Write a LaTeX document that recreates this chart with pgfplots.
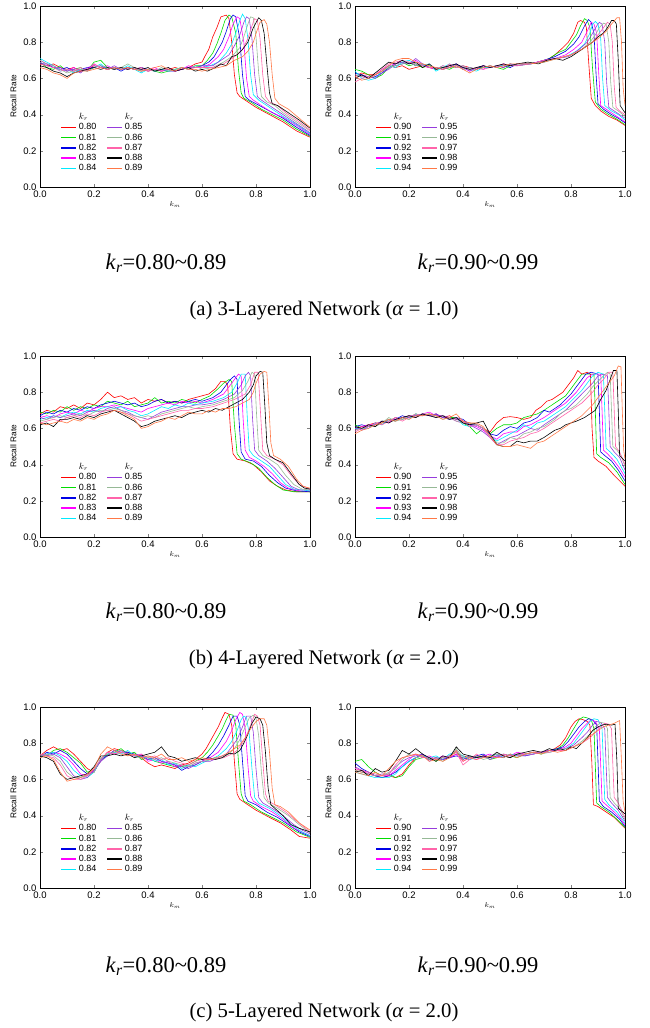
\documentclass[border=0pt]{standalone}
\usepackage{fontspec}
\setmainfont{Liberation Serif}
\setsansfont{Liberation Sans}
\usepackage{pgfplots}
\usepackage{pgfplotstable}
\pgfplotsset{compat=1.18}

\definecolor{c0}{RGB}{255,0,0}
\definecolor{c1}{RGB}{0,220,0}
\definecolor{c2}{RGB}{0,0,230}
\definecolor{c3}{RGB}{255,0,255}
\definecolor{c4}{RGB}{0,235,255}
\definecolor{c5}{RGB}{150,60,220}
\definecolor{c6}{RGB}{150,185,150}
\definecolor{c7}{RGB}{255,100,170}
\definecolor{c8}{RGB}{0,0,0}
\definecolor{c9}{RGB}{255,120,70}

\pgfplotsset{
 panel/.style={
  scale only axis, width=270pt, height=181pt,
  xmin=0,xmax=1,ymin=0,ymax=1,
  xtick={0,0.2,0.4,0.6,0.8,1}, ytick={0,0.2,0.4,0.6,0.8,1},
  tick align=inside, major tick length=3pt,
  xticklabel style={/pgf/number format/fixed,/pgf/number format/fixed zerofill,/pgf/number format/precision=1,/pgf/number format/assume math mode=true},
  yticklabel style={/pgf/number format/fixed,/pgf/number format/fixed zerofill,/pgf/number format/precision=1,/pgf/number format/assume math mode=true},
  ticklabel style={font=\sffamily\fontsize{9.5}{10}\selectfont},
  xlabel={$k_m$}, ylabel={Recall Rate},
  xlabel style={font=\fontsize{7}{8}\selectfont, at={(axis description cs:0.5,0)}, anchor=center, yshift=-18pt},
  ylabel style={font=\sffamily\fontsize{8.3}{9}\selectfont},
  axis line style={line width=0.8pt},
  no markers,
  every axis plot/.append style={line width=0.6pt},
  legend columns=2,
  legend cell align=left,
  legend style={at={(axis description cs:0.075,0.42)},anchor=north west,draw=none,fill=none,
     font=\sffamily\fontsize{9}{9}\selectfont,
     /tikz/every even column/.append style={column sep=8pt},
     row sep=-1.5pt, inner sep=0pt},
  legend image code/.code={\draw[#1,line width=1.5pt] (0pt,0pt) -- (15pt,0pt);},
 }
}

\newcommand{\series}[4]{%
 \addplot[#3,forget plot] table[x=x,y=#2]{#1};
 \addplot[#3,forget plot] coordinates {#4};}

\newcommand{\legendset}[1]{%
 \addlegendimage{empty legend}\addlegendentry{$k_r$}
 \addlegendimage{empty legend}\addlegendentry{$k_r$}
 \addlegendimage{color=c0}\addlegendentry{0.#10}
 \addlegendimage{color=c5}\addlegendentry{0.#15}
 \addlegendimage{color=c1}\addlegendentry{0.#11}
 \addlegendimage{color=c6}\addlegendentry{0.#16}
 \addlegendimage{color=c2}\addlegendentry{0.#12}
 \addlegendimage{color=c7}\addlegendentry{0.#17}
 \addlegendimage{color=c3}\addlegendentry{0.#13}
 \addlegendimage{color=c8}\addlegendentry{0.#18}
 \addlegendimage{color=c4}\addlegendentry{0.#14}
 \addlegendimage{color=c9}\addlegendentry{0.#19}}

% ---------------- flat parts ----------------
\pgfplotstableread{
x r g b m c p gg pk k o
0.000 0.68 0.69 0.68 0.70 0.71 0.69 0.70 0.68 0.67 0.66
0.025 0.67 0.66 0.68 0.68 0.69 0.67 0.68 0.67 0.66 0.65
0.050 0.68 0.65 0.66 0.67 0.67 0.66 0.67 0.66 0.64 0.63
0.075 0.66 0.67 0.65 0.65 0.64 0.66 0.65 0.64 0.63 0.62
0.100 0.65 0.64 0.66 0.64 0.65 0.64 0.63 0.65 0.61 0.60
0.125 0.66 0.65 0.64 0.66 0.63 0.65 0.64 0.64 0.63 0.63
0.150 0.64 0.66 0.65 0.64 0.65 0.63 0.65 0.66 0.64 0.64
0.175 0.65 0.64 0.66 0.65 0.64 0.66 0.64 0.64 0.65 0.64
0.200 0.67 0.69 0.66 0.68 0.66 0.67 0.66 0.68 0.66 0.65
0.225 0.66 0.70 0.67 0.66 0.68 0.66 0.67 0.66 0.65 0.66
0.250 0.65 0.66 0.65 0.67 0.65 0.65 0.66 0.65 0.66 0.65
0.275 0.66 0.65 0.66 0.65 0.66 0.67 0.65 0.66 0.65 0.66
0.300 0.65 0.66 0.64 0.66 0.65 0.65 0.66 0.65 0.66 0.65
0.325 0.66 0.65 0.66 0.65 0.67 0.66 0.68 0.66 0.65 0.66
0.350 0.65 0.66 0.65 0.66 0.65 0.65 0.66 0.65 0.66 0.65
0.375 0.66 0.64 0.66 0.64 0.63 0.65 0.64 0.66 0.65 0.64
0.400 0.64 0.65 0.65 0.65 0.65 0.64 0.65 0.64 0.66 0.65
0.425 0.65 0.64 0.64 0.66 0.64 0.65 0.64 0.65 0.64 0.66
0.450 0.64 0.63 0.65 0.64 0.65 0.64 0.66 0.64 0.65 0.67
0.475 0.65 0.64 0.64 0.65 0.64 0.65 0.64 0.66 0.66 0.65
0.500 0.66 0.65 0.64 0.64 0.65 0.64 0.65 0.64 0.64 0.64
0.525 0.65 0.66 0.65 0.65 0.66 0.65 0.66 0.66 0.65 0.66
0.550 0.66 0.65 0.66 0.67 0.65 0.66 0.65 0.65 0.66 0.65
0.575 0.68 0.67 0.66 0.66 0.67 0.66 0.67 0.66 0.64 0.65
0.600 0.69 0.67 0.67 0.66 0.66 0.67 0.65 0.66 0.65 0.64
}\flatAL

\pgfplotstableread{
x r g b m c p gg pk k o
0.000 0.61 0.65 0.63 0.62 0.64 0.60 0.62 0.58 0.60 0.61
0.025 0.63 0.64 0.62 0.61 0.60 0.62 0.61 0.60 0.62 0.59
0.050 0.62 0.62 0.60 0.60 0.59 0.61 0.60 0.61 0.60 0.60
0.075 0.62 0.60 0.61 0.62 0.60 0.60 0.62 0.62 0.63 0.62
0.100 0.64 0.62 0.63 0.65 0.64 0.63 0.64 0.65 0.66 0.64
0.125 0.67 0.66 0.66 0.67 0.67 0.65 0.66 0.68 0.69 0.67
0.150 0.66 0.68 0.67 0.68 0.66 0.68 0.67 0.69 0.68 0.70
0.175 0.67 0.69 0.68 0.70 0.69 0.69 0.68 0.70 0.70 0.71
0.200 0.65 0.67 0.69 0.68 0.70 0.68 0.69 0.69 0.68 0.71
0.225 0.66 0.68 0.67 0.70 0.68 0.71 0.67 0.68 0.69 0.69
0.250 0.67 0.66 0.68 0.67 0.67 0.68 0.68 0.67 0.66 0.68
0.275 0.66 0.67 0.66 0.66 0.68 0.66 0.67 0.66 0.68 0.67
0.300 0.65 0.65 0.66 0.65 0.64 0.66 0.65 0.66 0.65 0.66
0.325 0.66 0.66 0.65 0.67 0.66 0.65 0.67 0.65 0.66 0.65
0.350 0.67 0.65 0.66 0.66 0.68 0.67 0.66 0.68 0.67 0.66
0.375 0.66 0.67 0.68 0.67 0.66 0.68 0.67 0.66 0.68 0.67
0.400 0.67 0.66 0.65 0.66 0.67 0.66 0.65 0.67 0.66 0.65
0.425 0.66 0.65 0.66 0.64 0.65 0.64 0.66 0.65 0.65 0.63
0.450 0.65 0.66 0.65 0.66 0.64 0.66 0.65 0.66 0.66 0.65
0.475 0.67 0.66 0.67 0.65 0.66 0.67 0.66 0.65 0.67 0.66
0.500 0.66 0.67 0.66 0.67 0.66 0.66 0.67 0.66 0.66 0.67
0.525 0.67 0.66 0.67 0.66 0.67 0.67 0.66 0.67 0.67 0.66
0.550 0.66 0.65 0.67 0.68 0.67 0.66 0.67 0.68 0.68 0.67
0.575 0.68 0.67 0.66 0.67 0.68 0.68 0.67 0.67 0.67 0.68
0.600 0.67 0.68 0.68 0.68 0.67 0.67 0.68 0.67 0.68 0.68
}\flatAR

\pgfplotstableread{
x r g b m c p gg pk k o
0.000 0.68 0.69 0.67 0.66 0.65 0.66 0.64 0.63 0.62 0.63
0.025 0.70 0.68 0.69 0.67 0.66 0.65 0.65 0.64 0.63 0.62
0.050 0.69 0.70 0.68 0.66 0.67 0.67 0.66 0.65 0.61 0.63
0.075 0.72 0.69 0.70 0.68 0.66 0.66 0.67 0.64 0.65 0.64
0.100 0.71 0.72 0.69 0.69 0.68 0.67 0.66 0.66 0.65 0.63
0.125 0.73 0.70 0.71 0.68 0.69 0.68 0.67 0.67 0.66 0.65
0.150 0.71 0.72 0.70 0.70 0.68 0.67 0.68 0.66 0.65 0.64
0.175 0.74 0.71 0.72 0.69 0.70 0.69 0.67 0.68 0.67 0.66
0.200 0.73 0.73 0.71 0.71 0.69 0.70 0.69 0.67 0.66 0.65
0.225 0.76 0.72 0.73 0.72 0.71 0.69 0.70 0.69 0.68 0.67
0.250 0.80 0.75 0.74 0.72 0.72 0.71 0.70 0.70 0.69 0.68
0.275 0.77 0.74 0.75 0.73 0.71 0.72 0.71 0.70 0.70 0.70
0.300 0.78 0.73 0.74 0.72 0.72 0.70 0.70 0.69 0.68 0.69
0.325 0.76 0.75 0.73 0.71 0.70 0.69 0.68 0.68 0.66 0.67
0.350 0.77 0.72 0.74 0.70 0.69 0.67 0.67 0.66 0.64 0.65
0.375 0.74 0.73 0.72 0.69 0.67 0.66 0.66 0.64 0.61 0.60
0.400 0.76 0.74 0.73 0.71 0.68 0.65 0.67 0.65 0.62 0.61
0.425 0.75 0.77 0.75 0.72 0.70 0.67 0.66 0.66 0.64 0.63
0.450 0.76 0.74 0.76 0.73 0.72 0.69 0.68 0.67 0.65 0.64
0.475 0.74 0.75 0.74 0.74 0.71 0.70 0.69 0.68 0.66 0.66
0.500 0.75 0.74 0.75 0.73 0.73 0.71 0.70 0.69 0.67 0.65
0.525 0.74 0.76 0.74 0.75 0.72 0.72 0.71 0.70 0.66 0.67
0.550 0.76 0.75 0.75 0.74 0.74 0.72 0.72 0.70 0.68 0.69
0.575 0.77 0.74 0.76 0.75 0.73 0.73 0.71 0.71 0.69 0.68
0.600 0.78 0.76 0.75 0.74 0.74 0.73 0.72 0.71 0.70 0.68
}\flatBL

\pgfplotstableread{
x r g b m c p gg pk k o
0.000 0.60 0.62 0.61 0.59 0.60 0.61 0.59 0.58 0.61 0.57
0.025 0.61 0.60 0.62 0.61 0.60 0.59 0.60 0.60 0.60 0.59
0.050 0.62 0.61 0.61 0.62 0.60 0.61 0.62 0.61 0.62 0.60
0.075 0.63 0.62 0.63 0.62 0.63 0.62 0.61 0.63 0.61 0.62
0.100 0.63 0.64 0.62 0.64 0.62 0.64 0.63 0.62 0.64 0.63
0.125 0.65 0.64 0.65 0.63 0.65 0.64 0.66 0.64 0.63 0.65
0.150 0.64 0.66 0.65 0.66 0.64 0.65 0.64 0.66 0.65 0.64
0.175 0.66 0.65 0.67 0.65 0.66 0.66 0.65 0.64 0.66 0.66
0.200 0.67 0.66 0.66 0.67 0.65 0.67 0.67 0.66 0.67 0.65
0.225 0.66 0.68 0.67 0.66 0.68 0.67 0.66 0.68 0.66 0.67
0.250 0.68 0.67 0.68 0.68 0.67 0.68 0.68 0.67 0.68 0.67
0.275 0.67 0.68 0.67 0.69 0.68 0.67 0.68 0.68 0.67 0.68
0.300 0.68 0.67 0.68 0.67 0.66 0.68 0.67 0.66 0.66 0.67
0.325 0.66 0.67 0.66 0.67 0.67 0.66 0.65 0.67 0.67 0.65
0.350 0.67 0.66 0.65 0.66 0.65 0.66 0.66 0.65 0.65 0.66
0.375 0.65 0.66 0.66 0.64 0.66 0.65 0.64 0.66 0.66 0.68
0.400 0.64 0.63 0.65 0.63 0.62 0.64 0.63 0.64 0.63 0.64
0.425 0.63 0.61 0.62 0.62 0.61 0.62 0.63 0.61 0.62 0.63
0.450 0.62 0.57 0.62 0.61 0.62 0.60 0.62 0.62 0.63 0.63
0.475 0.60 0.60 0.60 0.59 0.60 0.58 0.60 0.60 0.64 0.61
0.500 0.58 0.57 0.57 0.56 0.56 0.55 0.56 0.55 0.57 0.56
0.525 0.63 0.60 0.56 0.54 0.53 0.51 0.52 0.51 0.51 0.51
0.550 0.66 0.62 0.59 0.57 0.55 0.53 0.52 0.51 0.50 0.50
0.575 0.665 0.62 0.61 0.58 0.57 0.55 0.55 0.53 0.50 0.50
0.600 0.66 0.63 0.60 0.58 0.59 0.56 0.54 0.54 0.53 0.51
}\flatBR

\pgfplotstableread{
x r g b m c p gg pk k o
0.000 0.73 0.74 0.72 0.73 0.72 0.74 0.73 0.74 0.73 0.72
0.025 0.76 0.73 0.75 0.74 0.74 0.73 0.74 0.73 0.72 0.73
0.050 0.78 0.76 0.74 0.75 0.75 0.74 0.73 0.72 0.70 0.71
0.075 0.76 0.77 0.76 0.74 0.73 0.72 0.70 0.68 0.63 0.64
0.100 0.77 0.75 0.74 0.72 0.70 0.67 0.64 0.62 0.60 0.59
0.125 0.74 0.72 0.70 0.68 0.65 0.62 0.61 0.60 0.61 0.60
0.150 0.70 0.69 0.66 0.63 0.62 0.60 0.61 0.60 0.62 0.61
0.175 0.66 0.64 0.63 0.62 0.61 0.61 0.62 0.62 0.63 0.63
0.200 0.64 0.65 0.64 0.65 0.64 0.65 0.64 0.66 0.67 0.66
0.225 0.71 0.70 0.71 0.70 0.71 0.70 0.72 0.71 0.73 0.74
0.250 0.75 0.74 0.73 0.75 0.74 0.73 0.74 0.75 0.73 0.78
0.275 0.77 0.75 0.76 0.74 0.75 0.76 0.75 0.74 0.74 0.76
0.300 0.76 0.77 0.75 0.76 0.74 0.75 0.76 0.75 0.73 0.74
0.325 0.75 0.74 0.75 0.74 0.76 0.74 0.73 0.74 0.74 0.73
0.350 0.73 0.75 0.74 0.73 0.73 0.74 0.74 0.73 0.72 0.74
0.375 0.72 0.71 0.73 0.74 0.72 0.73 0.72 0.74 0.73 0.72
0.400 0.69 0.72 0.71 0.70 0.72 0.71 0.73 0.72 0.74 0.73
0.425 0.67 0.70 0.72 0.71 0.70 0.72 0.71 0.73 0.75 0.72
0.450 0.68 0.69 0.70 0.69 0.71 0.70 0.72 0.71 0.78 0.74
0.475 0.67 0.68 0.69 0.70 0.68 0.69 0.70 0.72 0.73 0.71
0.500 0.66 0.67 0.68 0.67 0.69 0.68 0.69 0.70 0.72 0.71
0.525 0.68 0.67 0.65 0.68 0.66 0.67 0.68 0.69 0.70 0.72
0.550 0.69 0.68 0.67 0.67 0.68 0.66 0.67 0.68 0.71 0.70
0.575 0.71 0.70 0.68 0.69 0.67 0.68 0.69 0.70 0.72 0.71
0.600 0.74 0.72 0.70 0.70 0.69 0.70 0.70 0.71 0.71 0.72
}\flatCL

\pgfplotstableread{
x r g b m c p gg pk k o
0.000 0.65 0.70 0.69 0.66 0.64 0.67 0.65 0.66 0.64 0.64
0.025 0.64 0.71 0.66 0.65 0.63 0.65 0.64 0.65 0.65 0.63
0.050 0.63 0.67 0.64 0.63 0.62 0.64 0.63 0.64 0.62 0.62
0.075 0.62 0.64 0.62 0.62 0.61 0.62 0.62 0.63 0.66 0.64
0.100 0.61 0.62 0.61 0.62 0.61 0.63 0.62 0.62 0.64 0.62
0.125 0.62 0.63 0.62 0.62 0.61 0.63 0.64 0.63 0.65 0.66
0.150 0.61 0.61 0.64 0.65 0.63 0.67 0.66 0.68 0.70 0.70
0.175 0.63 0.62 0.67 0.68 0.67 0.70 0.71 0.72 0.76 0.72
0.200 0.68 0.67 0.70 0.71 0.70 0.72 0.74 0.73 0.74 0.73
0.225 0.72 0.71 0.72 0.74 0.72 0.73 0.72 0.74 0.77 0.74
0.250 0.73 0.72 0.74 0.72 0.73 0.74 0.73 0.72 0.74 0.73
0.275 0.71 0.72 0.71 0.73 0.72 0.70 0.71 0.72 0.72 0.70
0.300 0.72 0.70 0.72 0.71 0.73 0.72 0.72 0.71 0.70 0.71
0.325 0.71 0.72 0.71 0.73 0.71 0.71 0.70 0.72 0.73 0.70
0.350 0.72 0.73 0.72 0.72 0.74 0.73 0.72 0.73 0.72 0.72
0.375 0.74 0.75 0.73 0.74 0.75 0.76 0.77 0.75 0.78 0.76
0.400 0.73 0.71 0.72 0.70 0.73 0.71 0.72 0.68 0.74 0.70
0.425 0.72 0.73 0.71 0.72 0.71 0.73 0.72 0.71 0.73 0.72
0.450 0.73 0.72 0.73 0.71 0.72 0.72 0.73 0.74 0.72 0.71
0.475 0.72 0.73 0.74 0.73 0.72 0.73 0.71 0.72 0.73 0.72
0.500 0.73 0.71 0.72 0.74 0.73 0.71 0.72 0.73 0.72 0.73
0.525 0.74 0.72 0.73 0.72 0.74 0.73 0.74 0.72 0.75 0.72
0.550 0.73 0.74 0.72 0.73 0.72 0.74 0.73 0.74 0.73 0.72
0.575 0.72 0.73 0.74 0.73 0.74 0.73 0.72 0.73 0.72 0.74
0.600 0.74 0.72 0.73 0.75 0.73 0.74 0.74 0.73 0.74 0.72
}\flatCR

\begin{document}
\begin{tikzpicture}[x=1pt,y=1pt]
\path[use as bounding box] (0,0) rectangle (649,-1028);

% ================= (a) left =================
\begin{axis}[panel, at={(40pt,-187pt)}, anchor=south west]
\series{\flatAL}{r}{c0}{(0.6,0.69)(0.61,0.72)(0.625,0.76)(0.64,0.83)(0.655,0.88)(0.67,0.94)(0.69,0.95)(0.70,0.93)(0.71,0.80)(0.72,0.62)(0.73,0.52)(0.74,0.50)(0.76,0.48)(0.80,0.44)(0.85,0.40)(0.90,0.36)(0.95,0.31)(1.0,0.275)}
\series{\flatAL}{g}{c1}{(0.6,0.67)(0.62,0.70)(0.64,0.74)(0.655,0.79)(0.67,0.85)(0.685,0.92)(0.70,0.95)(0.71,0.94)(0.725,0.85)(0.735,0.65)(0.745,0.52)(0.755,0.49)(0.78,0.47)(0.82,0.43)(0.86,0.40)(0.90,0.37)(0.95,0.32)(1.0,0.28)}
\series{\flatAL}{b}{c2}{(0.6,0.67)(0.625,0.69)(0.645,0.72)(0.66,0.76)(0.675,0.80)(0.69,0.86)(0.705,0.93)(0.715,0.95)(0.725,0.94)(0.74,0.82)(0.75,0.62)(0.76,0.50)(0.775,0.48)(0.80,0.46)(0.85,0.42)(0.90,0.38)(0.95,0.33)(1.0,0.285)}
\series{\flatAL}{m}{c3}{(0.6,0.66)(0.63,0.68)(0.66,0.72)(0.68,0.76)(0.70,0.83)(0.715,0.90)(0.73,0.94)(0.74,0.93)(0.755,0.80)(0.765,0.60)(0.775,0.50)(0.79,0.48)(0.82,0.45)(0.86,0.41)(0.90,0.385)(0.95,0.34)(1.0,0.29)}
\series{\flatAL}{c}{c4}{(0.6,0.66)(0.63,0.67)(0.66,0.69)(0.69,0.74)(0.71,0.79)(0.725,0.85)(0.74,0.92)(0.75,0.955)(0.76,0.93)(0.77,0.82)(0.78,0.62)(0.79,0.51)(0.81,0.48)(0.85,0.44)(0.90,0.39)(0.95,0.345)(1.0,0.295)}
\series{\flatAL}{p}{c5}{(0.6,0.67)(0.64,0.67)(0.67,0.70)(0.70,0.73)(0.72,0.78)(0.74,0.84)(0.755,0.91)(0.765,0.94)(0.775,0.93)(0.785,0.82)(0.795,0.62)(0.805,0.50)(0.82,0.48)(0.86,0.44)(0.90,0.40)(0.95,0.35)(1.0,0.30)}
\series{\flatAL}{gg}{c6}{(0.6,0.65)(0.64,0.66)(0.68,0.69)(0.71,0.72)(0.74,0.77)(0.755,0.83)(0.77,0.90)(0.78,0.94)(0.79,0.935)(0.80,0.83)(0.81,0.63)(0.82,0.50)(0.84,0.47)(0.87,0.45)(0.90,0.41)(0.95,0.36)(1.0,0.31)}
\series{\flatAL}{pk}{c7}{(0.6,0.66)(0.64,0.66)(0.68,0.68)(0.72,0.72)(0.75,0.76)(0.77,0.82)(0.785,0.89)(0.795,0.93)(0.805,0.92)(0.815,0.82)(0.825,0.62)(0.835,0.50)(0.85,0.47)(0.88,0.45)(0.91,0.41)(0.95,0.37)(1.0,0.315)}
\series{\flatAL}{k}{c8}{(0.6,0.65)(0.62,0.64)(0.65,0.66)(0.67,0.68)(0.69,0.67)(0.71,0.72)(0.73,0.73)(0.75,0.76)(0.77,0.80)(0.79,0.88)(0.81,0.935)(0.82,0.92)(0.83,0.85)(0.84,0.68)(0.85,0.52)(0.86,0.46)(0.88,0.45)(0.92,0.41)(0.96,0.37)(1.0,0.325)}
\series{\flatAL}{o}{c9}{(0.6,0.64)(0.63,0.65)(0.66,0.66)(0.69,0.67)(0.72,0.70)(0.75,0.72)(0.77,0.75)(0.79,0.80)(0.805,0.87)(0.815,0.91)(0.83,0.925)(0.84,0.90)(0.85,0.80)(0.86,0.62)(0.87,0.49)(0.885,0.46)(0.92,0.43)(0.96,0.38)(1.0,0.33)}
\legendset{8}
\end{axis}

% ================= (a) right =================
\begin{axis}[panel, at={(355pt,-187pt)}, anchor=south west]
\series{\flatAR}{r}{c0}{(0.6,0.67)(0.64,0.68)(0.68,0.69)(0.71,0.70)(0.74,0.73)(0.77,0.77)(0.79,0.80)(0.81,0.85)(0.825,0.91)(0.835,0.92)(0.85,0.91)(0.857,0.88)(0.865,0.70)(0.875,0.49)(0.89,0.45)(0.91,0.42)(0.94,0.39)(0.97,0.37)(1.0,0.34)}
\series{\flatAR}{g}{c1}{(0.6,0.68)(0.64,0.68)(0.68,0.69)(0.72,0.71)(0.75,0.74)(0.78,0.76)(0.80,0.80)(0.82,0.84)(0.835,0.89)(0.85,0.93)(0.86,0.92)(0.87,0.88)(0.88,0.65)(0.89,0.47)(0.91,0.43)(0.94,0.40)(0.97,0.375)(1.0,0.345)}
\series{\flatAR}{b}{c2}{(0.6,0.68)(0.65,0.68)(0.70,0.70)(0.74,0.72)(0.78,0.75)(0.81,0.79)(0.83,0.83)(0.85,0.89)(0.865,0.925)(0.875,0.91)(0.885,0.85)(0.893,0.62)(0.90,0.46)(0.92,0.43)(0.95,0.40)(0.975,0.38)(1.0,0.355)}
\series{\flatAR}{m}{c3}{(0.6,0.68)(0.65,0.68)(0.70,0.70)(0.74,0.71)(0.78,0.73)(0.81,0.76)(0.84,0.80)(0.86,0.86)(0.875,0.91)(0.885,0.90)(0.895,0.85)(0.903,0.62)(0.91,0.45)(0.93,0.43)(0.96,0.40)(1.0,0.36)}
\series{\flatAR}{c}{c4}{(0.6,0.67)(0.65,0.68)(0.70,0.69)(0.74,0.71)(0.78,0.72)(0.82,0.75)(0.85,0.79)(0.87,0.85)(0.88,0.90)(0.89,0.915)(0.90,0.90)(0.91,0.82)(0.917,0.60)(0.925,0.45)(0.95,0.42)(0.975,0.40)(1.0,0.37)}
\series{\flatAR}{p}{c5}{(0.6,0.67)(0.65,0.68)(0.70,0.70)(0.75,0.71)(0.79,0.72)(0.83,0.76)(0.86,0.80)(0.88,0.85)(0.895,0.89)(0.905,0.91)(0.915,0.90)(0.925,0.80)(0.932,0.58)(0.94,0.44)(0.96,0.42)(1.0,0.38)}
\series{\flatAR}{gg}{c6}{(0.6,0.68)(0.65,0.68)(0.70,0.69)(0.75,0.71)(0.80,0.73)(0.84,0.76)(0.87,0.80)(0.89,0.84)(0.905,0.88)(0.92,0.905)(0.93,0.90)(0.94,0.80)(0.947,0.58)(0.955,0.44)(0.975,0.42)(1.0,0.39)}
\series{\flatAR}{pk}{c7}{(0.6,0.67)(0.65,0.68)(0.70,0.70)(0.75,0.71)(0.80,0.73)(0.84,0.76)(0.88,0.80)(0.90,0.84)(0.92,0.88)(0.935,0.91)(0.945,0.90)(0.953,0.80)(0.96,0.56)(0.967,0.44)(0.98,0.42)(1.0,0.40)}
\series{\flatAR}{k}{c8}{(0.6,0.68)(0.64,0.69)(0.68,0.68)(0.71,0.70)(0.74,0.71)(0.77,0.70)(0.80,0.72)(0.82,0.74)(0.85,0.77)(0.88,0.80)(0.90,0.83)(0.92,0.85)(0.935,0.88)(0.95,0.92)(0.96,0.92)(0.968,0.90)(0.975,0.70)(0.982,0.45)(1.0,0.41)}
\series{\flatAR}{o}{c9}{(0.6,0.68)(0.65,0.68)(0.70,0.69)(0.75,0.71)(0.80,0.73)(0.84,0.76)(0.87,0.79)(0.90,0.82)(0.93,0.86)(0.95,0.90)(0.97,0.935)(0.98,0.935)(0.987,0.80)(0.993,0.55)(1.0,0.45)}
\legendset{9}
\end{axis}

% ================= (b) left =================
\begin{axis}[panel, at={(40pt,-537pt)}, anchor=south west]
\series{\flatBL}{r}{c0}{(0.6,0.78)(0.625,0.79)(0.65,0.82)(0.67,0.86)(0.685,0.86)(0.695,0.84)(0.705,0.60)(0.715,0.46)(0.73,0.43)(0.76,0.42)(0.79,0.40)(0.82,0.36)(0.85,0.31)(0.88,0.28)(0.91,0.26)(0.95,0.25)(1.0,0.25)}
\series{\flatBL}{g}{c1}{(0.6,0.76)(0.63,0.78)(0.66,0.82)(0.68,0.85)(0.70,0.87)(0.71,0.86)(0.72,0.62)(0.73,0.46)(0.745,0.43)(0.78,0.41)(0.81,0.38)(0.84,0.33)(0.87,0.29)(0.90,0.26)(0.94,0.25)(1.0,0.25)}
\series{\flatBL}{b}{c2}{(0.6,0.75)(0.64,0.77)(0.67,0.80)(0.69,0.84)(0.705,0.87)(0.72,0.89)(0.73,0.87)(0.737,0.65)(0.745,0.47)(0.76,0.43)(0.79,0.42)(0.82,0.39)(0.85,0.34)(0.88,0.30)(0.91,0.27)(0.95,0.255)(1.0,0.25)}
\series{\flatBL}{m}{c3}{(0.6,0.74)(0.64,0.76)(0.68,0.79)(0.70,0.83)(0.72,0.87)(0.735,0.90)(0.745,0.89)(0.752,0.66)(0.76,0.48)(0.775,0.44)(0.80,0.42)(0.83,0.39)(0.86,0.35)(0.89,0.30)(0.92,0.27)(0.96,0.255)(1.0,0.255)}
\series{\flatBL}{c}{c4}{(0.6,0.74)(0.64,0.75)(0.68,0.77)(0.71,0.80)(0.73,0.85)(0.745,0.90)(0.76,0.90)(0.767,0.68)(0.775,0.48)(0.79,0.45)(0.82,0.42)(0.85,0.39)(0.88,0.34)(0.91,0.29)(0.94,0.265)(1.0,0.255)}
\series{\flatBL}{p}{c5}{(0.6,0.73)(0.64,0.74)(0.68,0.76)(0.72,0.79)(0.745,0.84)(0.76,0.89)(0.772,0.91)(0.78,0.89)(0.787,0.66)(0.795,0.48)(0.81,0.45)(0.84,0.42)(0.87,0.38)(0.90,0.33)(0.93,0.28)(0.96,0.26)(1.0,0.26)}
\series{\flatBL}{gg}{c6}{(0.6,0.72)(0.64,0.73)(0.68,0.75)(0.72,0.77)(0.75,0.81)(0.77,0.86)(0.785,0.91)(0.795,0.90)(0.802,0.68)(0.81,0.48)(0.825,0.45)(0.85,0.43)(0.88,0.40)(0.91,0.34)(0.94,0.29)(0.97,0.265)(1.0,0.26)}
\series{\flatBL}{pk}{c7}{(0.6,0.71)(0.64,0.72)(0.68,0.74)(0.72,0.76)(0.76,0.79)(0.78,0.84)(0.795,0.91)(0.808,0.91)(0.817,0.68)(0.825,0.48)(0.84,0.45)(0.87,0.43)(0.90,0.40)(0.93,0.34)(0.96,0.29)(1.0,0.265)}
\series{\flatBL}{k}{c8}{(0.6,0.70)(0.625,0.69)(0.65,0.71)(0.675,0.70)(0.70,0.72)(0.725,0.74)(0.75,0.76)(0.775,0.80)(0.79,0.84)(0.80,0.89)(0.815,0.915)(0.825,0.91)(0.833,0.72)(0.84,0.52)(0.85,0.45)(0.87,0.43)(0.90,0.41)(0.93,0.35)(0.96,0.29)(0.98,0.27)(1.0,0.265)}
\series{\flatBL}{o}{c9}{(0.6,0.68)(0.625,0.70)(0.65,0.69)(0.675,0.71)(0.70,0.71)(0.725,0.72)(0.75,0.74)(0.775,0.76)(0.79,0.80)(0.80,0.85)(0.815,0.90)(0.83,0.915)(0.84,0.91)(0.848,0.72)(0.855,0.52)(0.865,0.45)(0.89,0.43)(0.92,0.39)(0.95,0.32)(0.975,0.28)(1.0,0.27)}
\legendset{8}
\end{axis}

% ================= (b) right =================
\begin{axis}[panel, at={(355pt,-537pt)}, anchor=south west]
\series{\flatBR}{r}{c0}{(0.6,0.66)(0.625,0.65)(0.65,0.66)(0.67,0.70)(0.69,0.72)(0.71,0.75)(0.73,0.76)(0.75,0.78)(0.77,0.80)(0.79,0.84)(0.81,0.88)(0.825,0.92)(0.84,0.90)(0.86,0.91)(0.872,0.90)(0.878,0.60)(0.885,0.44)(0.90,0.42)(0.93,0.39)(0.96,0.34)(0.98,0.31)(1.0,0.28)}
\series{\flatBR}{g}{c1}{(0.6,0.63)(0.625,0.66)(0.65,0.67)(0.675,0.68)(0.70,0.70)(0.72,0.72)(0.74,0.74)(0.76,0.76)(0.78,0.78)(0.80,0.82)(0.82,0.86)(0.84,0.90)(0.86,0.90)(0.885,0.90)(0.89,0.70)(0.895,0.46)(0.91,0.44)(0.94,0.41)(0.97,0.36)(1.0,0.29)}
\series{\flatBR}{b}{c2}{(0.6,0.60)(0.625,0.63)(0.65,0.64)(0.675,0.66)(0.70,0.70)(0.72,0.69)(0.74,0.71)(0.76,0.73)(0.78,0.76)(0.80,0.79)(0.82,0.83)(0.84,0.87)(0.855,0.90)(0.875,0.91)(0.90,0.90)(0.905,0.70)(0.91,0.47)(0.925,0.45)(0.95,0.42)(0.975,0.37)(1.0,0.31)}
\series{\flatBR}{m}{c3}{(0.6,0.58)(0.625,0.61)(0.65,0.62)(0.675,0.64)(0.70,0.66)(0.72,0.68)(0.74,0.70)(0.76,0.72)(0.78,0.74)(0.80,0.77)(0.82,0.80)(0.84,0.84)(0.86,0.88)(0.88,0.90)(0.91,0.90)(0.915,0.70)(0.92,0.48)(0.935,0.46)(0.96,0.42)(0.98,0.38)(1.0,0.33)}
\series{\flatBR}{c}{c4}{(0.6,0.59)(0.625,0.62)(0.65,0.60)(0.675,0.63)(0.70,0.64)(0.72,0.66)(0.74,0.68)(0.76,0.70)(0.78,0.72)(0.80,0.75)(0.82,0.78)(0.84,0.81)(0.86,0.85)(0.88,0.89)(0.90,0.91)(0.92,0.90)(0.925,0.70)(0.93,0.49)(0.945,0.47)(0.97,0.43)(1.0,0.35)}
\series{\flatBR}{p}{c5}{(0.6,0.56)(0.625,0.58)(0.65,0.60)(0.675,0.59)(0.70,0.62)(0.72,0.64)(0.74,0.66)(0.76,0.68)(0.78,0.70)(0.80,0.73)(0.82,0.76)(0.84,0.79)(0.86,0.82)(0.88,0.85)(0.90,0.89)(0.92,0.90)(0.935,0.89)(0.94,0.70)(0.945,0.50)(0.96,0.47)(0.98,0.44)(1.0,0.37)}
\series{\flatBR}{gg}{c6}{(0.6,0.54)(0.625,0.57)(0.65,0.58)(0.675,0.60)(0.70,0.61)(0.72,0.63)(0.74,0.65)(0.76,0.68)(0.78,0.70)(0.80,0.71)(0.82,0.73)(0.84,0.76)(0.86,0.79)(0.88,0.83)(0.90,0.86)(0.92,0.89)(0.935,0.91)(0.945,0.90)(0.95,0.70)(0.955,0.50)(0.97,0.48)(0.985,0.45)(1.0,0.39)}
\series{\flatBR}{pk}{c7}{(0.6,0.54)(0.625,0.55)(0.65,0.57)(0.675,0.58)(0.70,0.60)(0.72,0.62)(0.74,0.64)(0.76,0.66)(0.78,0.68)(0.80,0.70)(0.82,0.72)(0.84,0.74)(0.86,0.77)(0.88,0.80)(0.90,0.84)(0.92,0.87)(0.94,0.91)(0.955,0.91)(0.96,0.70)(0.965,0.50)(0.98,0.47)(1.0,0.40)}
\series{\flatBR}{k}{c8}{(0.6,0.53)(0.625,0.52)(0.65,0.53)(0.675,0.53)(0.70,0.55)(0.72,0.57)(0.74,0.59)(0.76,0.60)(0.78,0.62)(0.80,0.63)(0.82,0.64)(0.835,0.65)(0.85,0.66)(0.87,0.68)(0.89,0.70)(0.91,0.76)(0.93,0.81)(0.945,0.87)(0.957,0.92)(0.97,0.92)(0.975,0.70)(0.98,0.45)(1.0,0.42)}
\series{\flatBR}{o}{c9}{(0.6,0.51)(0.625,0.50)(0.65,0.49)(0.675,0.52)(0.70,0.53)(0.72,0.55)(0.74,0.57)(0.76,0.59)(0.78,0.61)(0.80,0.63)(0.82,0.65)(0.84,0.67)(0.86,0.70)(0.88,0.73)(0.90,0.77)(0.92,0.81)(0.94,0.85)(0.96,0.89)(0.975,0.945)(0.985,0.94)(0.99,0.70)(0.995,0.48)(1.0,0.43)}
\legendset{9}
\end{axis}

% ================= (c) left =================
\begin{axis}[panel, at={(40pt,-888pt)}, anchor=south west]
\series{\flatCL}{r}{c0}{(0.6,0.74)(0.615,0.77)(0.63,0.81)(0.645,0.85)(0.66,0.89)(0.675,0.94)(0.685,0.97)(0.70,0.96)(0.71,0.90)(0.72,0.70)(0.73,0.52)(0.74,0.49)(0.76,0.47)(0.80,0.43)(0.85,0.39)(0.89,0.36)(0.93,0.32)(0.96,0.285)(1.0,0.275)}
\series{\flatCL}{g}{c1}{(0.6,0.72)(0.62,0.75)(0.64,0.79)(0.66,0.84)(0.675,0.88)(0.69,0.93)(0.70,0.96)(0.715,0.955)(0.725,0.90)(0.735,0.70)(0.745,0.52)(0.755,0.48)(0.78,0.46)(0.82,0.42)(0.86,0.39)(0.90,0.36)(0.95,0.31)(1.0,0.28)}
\series{\flatCL}{b}{c2}{(0.6,0.70)(0.62,0.72)(0.64,0.75)(0.66,0.79)(0.68,0.84)(0.70,0.90)(0.715,0.95)(0.73,0.95)(0.74,0.90)(0.75,0.70)(0.76,0.51)(0.77,0.48)(0.80,0.46)(0.84,0.42)(0.88,0.39)(0.92,0.35)(0.96,0.31)(1.0,0.285)}
\series{\flatCL}{m}{c3}{(0.6,0.70)(0.63,0.72)(0.66,0.75)(0.69,0.81)(0.71,0.87)(0.725,0.93)(0.74,0.97)(0.75,0.96)(0.76,0.88)(0.77,0.68)(0.78,0.51)(0.79,0.48)(0.82,0.45)(0.86,0.42)(0.90,0.38)(0.94,0.33)(1.0,0.29)}
\series{\flatCL}{c}{c4}{(0.6,0.69)(0.63,0.71)(0.66,0.73)(0.69,0.77)(0.71,0.81)(0.73,0.87)(0.745,0.93)(0.755,0.95)(0.765,0.94)(0.775,0.85)(0.785,0.66)(0.795,0.50)(0.81,0.47)(0.85,0.44)(0.89,0.40)(0.93,0.35)(0.97,0.31)(1.0,0.29)}
\series{\flatCL}{p}{c5}{(0.6,0.70)(0.63,0.70)(0.66,0.72)(0.69,0.74)(0.71,0.78)(0.73,0.82)(0.75,0.89)(0.765,0.95)(0.78,0.95)(0.79,0.86)(0.80,0.66)(0.81,0.50)(0.825,0.47)(0.86,0.44)(0.90,0.40)(0.94,0.35)(0.97,0.32)(1.0,0.30)}
\series{\flatCL}{gg}{c6}{(0.6,0.70)(0.64,0.71)(0.67,0.72)(0.70,0.74)(0.72,0.77)(0.74,0.82)(0.76,0.89)(0.775,0.94)(0.79,0.955)(0.80,0.94)(0.81,0.84)(0.82,0.64)(0.83,0.50)(0.845,0.47)(0.88,0.44)(0.92,0.40)(0.96,0.35)(1.0,0.305)}
\series{\flatCL}{pk}{c7}{(0.6,0.71)(0.64,0.71)(0.68,0.72)(0.71,0.74)(0.73,0.76)(0.75,0.80)(0.77,0.86)(0.785,0.92)(0.795,0.96)(0.805,0.95)(0.815,0.90)(0.825,0.70)(0.835,0.52)(0.845,0.48)(0.87,0.46)(0.91,0.42)(0.95,0.37)(1.0,0.31)}
\series{\flatCL}{k}{c8}{(0.6,0.71)(0.625,0.72)(0.65,0.71)(0.675,0.72)(0.70,0.745)(0.72,0.74)(0.74,0.76)(0.755,0.80)(0.77,0.85)(0.785,0.91)(0.80,0.945)(0.815,0.935)(0.825,0.90)(0.835,0.75)(0.845,0.55)(0.855,0.46)(0.87,0.44)(0.90,0.40)(0.93,0.35)(0.96,0.33)(1.0,0.31)}
\series{\flatCL}{o}{c9}{(0.6,0.72)(0.625,0.71)(0.65,0.72)(0.675,0.73)(0.70,0.75)(0.72,0.77)(0.74,0.79)(0.76,0.83)(0.78,0.88)(0.80,0.92)(0.815,0.935)(0.83,0.935)(0.84,0.90)(0.85,0.75)(0.86,0.55)(0.87,0.46)(0.89,0.45)(0.92,0.42)(0.96,0.36)(1.0,0.32)}
\legendset{8}
\end{axis}

% ================= (c) right =================
\begin{axis}[panel, at={(355pt,-888pt)}, anchor=south west]
\series{\flatCR}{r}{c0}{(0.6,0.74)(0.63,0.74)(0.66,0.75)(0.69,0.75)(0.72,0.76)(0.74,0.77)(0.76,0.79)(0.78,0.83)(0.80,0.89)(0.815,0.92)(0.83,0.935)(0.845,0.93)(0.86,0.92)(0.87,0.90)(0.877,0.70)(0.883,0.46)(0.90,0.45)(0.93,0.42)(0.96,0.39)(0.98,0.36)(1.0,0.33)}
\series{\flatCR}{g}{c1}{(0.6,0.72)(0.63,0.74)(0.66,0.75)(0.69,0.74)(0.72,0.76)(0.75,0.77)(0.77,0.79)(0.79,0.83)(0.81,0.88)(0.83,0.93)(0.845,0.945)(0.86,0.94)(0.875,0.93)(0.885,0.88)(0.89,0.68)(0.895,0.47)(0.91,0.45)(0.94,0.42)(0.97,0.38)(1.0,0.335)}
\series{\flatCR}{b}{c2}{(0.6,0.73)(0.63,0.73)(0.66,0.74)(0.69,0.75)(0.72,0.76)(0.75,0.77)(0.77,0.78)(0.79,0.81)(0.81,0.85)(0.83,0.89)(0.85,0.92)(0.865,0.935)(0.88,0.93)(0.895,0.90)(0.90,0.70)(0.905,0.48)(0.92,0.45)(0.95,0.42)(0.98,0.38)(1.0,0.34)}
\series{\flatCR}{m}{c3}{(0.6,0.75)(0.63,0.74)(0.66,0.75)(0.69,0.75)(0.72,0.76)(0.75,0.76)(0.78,0.78)(0.80,0.80)(0.82,0.84)(0.84,0.88)(0.86,0.91)(0.875,0.93)(0.89,0.92)(0.905,0.88)(0.91,0.68)(0.915,0.48)(0.93,0.46)(0.96,0.42)(0.98,0.39)(1.0,0.35)}
\series{\flatCR}{c}{c4}{(0.6,0.73)(0.63,0.74)(0.66,0.74)(0.69,0.75)(0.72,0.75)(0.75,0.76)(0.78,0.77)(0.81,0.80)(0.83,0.84)(0.85,0.88)(0.87,0.92)(0.885,0.935)(0.90,0.93)(0.915,0.88)(0.92,0.68)(0.925,0.49)(0.94,0.46)(0.97,0.42)(1.0,0.36)}
\series{\flatCR}{p}{c5}{(0.6,0.74)(0.63,0.73)(0.66,0.74)(0.69,0.75)(0.72,0.76)(0.75,0.76)(0.78,0.77)(0.81,0.79)(0.84,0.83)(0.86,0.86)(0.88,0.90)(0.895,0.92)(0.91,0.915)(0.925,0.88)(0.93,0.68)(0.935,0.50)(0.95,0.47)(0.975,0.43)(1.0,0.37)}
\series{\flatCR}{gg}{c6}{(0.6,0.74)(0.63,0.74)(0.66,0.75)(0.69,0.74)(0.72,0.75)(0.75,0.76)(0.78,0.77)(0.81,0.78)(0.84,0.81)(0.87,0.85)(0.89,0.89)(0.91,0.915)(0.925,0.91)(0.935,0.88)(0.94,0.68)(0.945,0.50)(0.96,0.47)(0.98,0.44)(1.0,0.38)}
\series{\flatCR}{pk}{c7}{(0.6,0.73)(0.63,0.74)(0.66,0.74)(0.69,0.75)(0.72,0.75)(0.75,0.76)(0.78,0.76)(0.81,0.78)(0.84,0.80)(0.87,0.83)(0.89,0.86)(0.91,0.89)(0.925,0.91)(0.94,0.905)(0.95,0.88)(0.955,0.68)(0.96,0.50)(0.975,0.47)(1.0,0.39)}
\series{\flatCR}{k}{c8}{(0.6,0.74)(0.63,0.75)(0.66,0.76)(0.69,0.75)(0.72,0.77)(0.74,0.76)(0.76,0.77)(0.78,0.76)(0.80,0.78)(0.82,0.77)(0.84,0.80)(0.86,0.83)(0.88,0.87)(0.90,0.89)(0.915,0.90)(0.93,0.905)(0.95,0.90)(0.963,0.905)(0.97,0.70)(0.975,0.44)(1.0,0.41)}
\series{\flatCR}{o}{c9}{(0.6,0.72)(0.63,0.74)(0.66,0.75)(0.69,0.74)(0.72,0.76)(0.75,0.75)(0.78,0.76)(0.81,0.78)(0.84,0.80)(0.87,0.84)(0.90,0.87)(0.92,0.89)(0.94,0.90)(0.96,0.91)(0.98,0.925)(0.987,0.70)(0.993,0.48)(1.0,0.42)}
\legendset{9}
\end{axis}

% ---------------- captions ----------------
\begin{scope}[every node/.style={font=\fontsize{22.5}{26}\selectfont}]
\node at (166,-263) {\textit{k}\textsubscript{\textit{r}}=0.80\textasciitilde 0.89};
\node at (478,-263) {\textit{k}\textsubscript{\textit{r}}=0.90\textasciitilde 0.99};
\node at (166,-612) {\textit{k}\textsubscript{\textit{r}}=0.80\textasciitilde 0.89};
\node at (478,-612) {\textit{k}\textsubscript{\textit{r}}=0.90\textasciitilde 0.99};
\node at (166,-966) {\textit{k}\textsubscript{\textit{r}}=0.80\textasciitilde 0.89};
\node at (478,-966) {\textit{k}\textsubscript{\textit{r}}=0.90\textasciitilde 0.99};
\end{scope}
\begin{scope}[every node/.style={font=\fontsize{20.7}{24}\selectfont}]
\node at (324,-311) {(a) 3-Layered Network (\textit{α} = 1.0)};
\node at (324,-660) {(b) 4-Layered Network (\textit{α} = 2.0)};
\node at (324,-1013) {(c) 5-Layered Network (\textit{α} = 2.0)};
\end{scope}
\end{tikzpicture}
\end{document}
